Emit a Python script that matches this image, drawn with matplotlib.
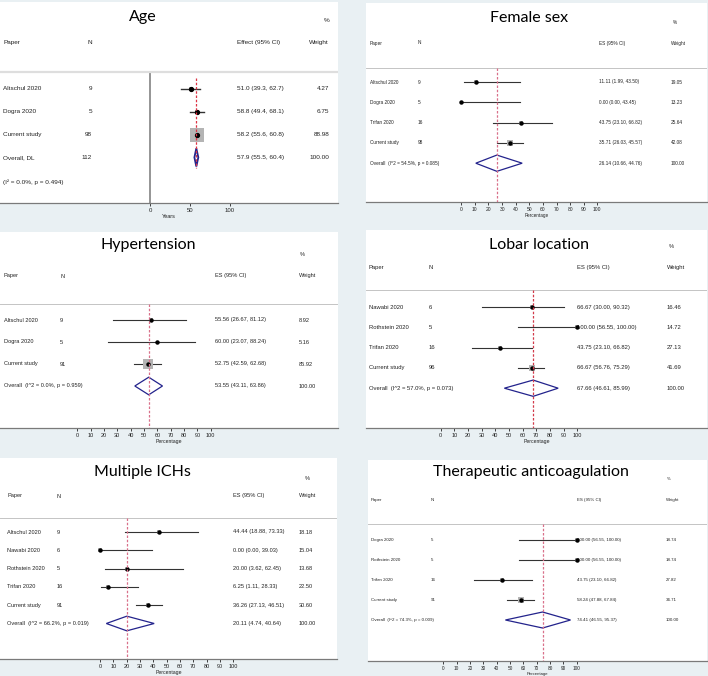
import matplotlib
matplotlib.use("Agg")
import matplotlib.pyplot as plt

W, H = 708, 676
BG = "#e9f0f3"
TXT = "Liberation Sans"

# ---- data ----
age_papers = ["Altschul 2020", "Dogra 2020", "Current study"]
age_n = [9, 5, 98]
age_es = [51.0, 58.8, 58.2]
age_lo = [39.3, 49.4, 55.6]
age_hi = [62.7, 68.1, 60.8]
age_w = [4.27, 6.75, 88.98]
age_overall = [57.9, 55.5, 60.4]
age_total_n = 112
age_het = "(I² = 0.0%, p = 0.494)"

fem_papers = ["Altschul 2020", "Dogra 2020", "Trifan 2020", "Current study"]
fem_n = [9, 5, 16, 98]
fem_es = [11.11, 0.00, 43.75, 35.71]
fem_lo = [1.99, 0.00, 23.10, 26.03]
fem_hi = [43.50, 43.45, 66.82, 45.57]
fem_w = [19.05, 13.23, 25.64, 42.08]
fem_overall = [26.14, 10.66, 44.76]
fem_het = "(I^2 = 54.5%, p = 0.085)"

hyp_papers = ["Altschul 2020", "Dogra 2020", "Current study"]
hyp_n = [9, 5, 91]
hyp_es = [55.56, 60.00, 52.75]
hyp_lo = [26.67, 23.07, 42.59]
hyp_hi = [81.12, 88.24, 62.68]
hyp_w = [8.92, 5.16, 85.92]
hyp_overall = [53.55, 43.11, 63.86]
hyp_het = "(I^2 = 0.0%, p = 0.959)"

lob_papers = ["Nawabi 2020", "Rothstein 2020", "Trifan 2020", "Current study"]
lob_n = [6, 5, 16, 96]
lob_es = [66.67, 100.00, 43.75, 66.67]
lob_lo = [30.00, 56.55, 23.10, 56.76]
lob_hi = [90.32, 100.00, 66.82, 75.29]
lob_w = [16.46, 14.72, 27.13, 41.69]
lob_overall = [67.66, 46.61, 85.99]
lob_het = "(I^2 = 57.0%, p = 0.073)"

mul_papers = ["Altschul 2020", "Nawabi 2020", "Rothstein 2020", "Trifan 2020", "Current study"]
mul_n = [9, 6, 5, 16, 91]
mul_es = [44.44, 0.00, 20.00, 6.25, 36.26]
mul_lo = [18.88, 0.00, 3.62, 1.11, 27.13]
mul_hi = [73.33, 39.03, 62.45, 28.33, 46.51]
mul_w = [18.18, 15.04, 13.68, 22.50, 30.60]
mul_overall = [20.11, 4.74, 40.64]
mul_het = "(I^2 = 66.2%, p = 0.019)"

ant_papers = ["Dogra 2020", "Rothstein 2020", "Trifan 2020", "Current study"]
ant_n = [5, 5, 16, 91]
ant_es = [100.00, 100.00, 43.75, 58.24]
ant_lo = [56.55, 56.55, 23.10, 47.88]
ant_hi = [100.00, 100.00, 66.82, 67.84]
ant_w = [18.74, 18.74, 27.82, 34.71]
ant_overall = [74.41, 46.55, 95.37]
ant_het = "(I^2 = 74.3%, p = 0.009)"

pct_ticks = list(range(0, 101, 10))
age_ticks = [0, 50, 100]

# ---- layout, in figure pixels ----
lay_age = dict(rect=(0, 2, 338, 203), px0=150, px100=230, row0=89, dy=22.8,
               header=43, sep=72, title=(143, 17), pct=(329, 21), het_y=182,
               cols=(3, 92, 237, 329), fs=4.6, tfs=4.3, box=1.5, red=(78, 168),
               red_c="#dd3344")
lay_fem = dict(rect=(366, 3, 707, 202), px0=461.3, px100=597.3, row0=82, dy=20.3,
               header=43, sep=68, title=(529, 18), pct=(673, 22),
               cols=(370, 418, 599, 671), fs=3.4, tfs=3.6, box=0.8, red=(68, 202))
lay_hyp = dict(rect=(0, 232, 338, 428), px0=77.3, px100=210.7, row0=320, dy=22,
               header=276, sep=304, title=(148, 245), pct=(300, 254),
               cols=(4, 60, 215, 299), fs=4.1, tfs=4.0, box=1.08, red=(304, 428))
lob_lay = dict(rect=(366, 230, 707, 428), px0=440.7, px100=577.3, row0=307, dy=20.3,
               header=267, sep=290, title=(539, 245), pct=(669, 246),
               cols=(369, 429, 577, 667), fs=4.2, tfs=4.0, box=0.8, red=(290, 428),
               red_c="#d23a4a")
lay_mul = dict(rect=(0, 458, 337, 659), px0=100, px100=233.3, row0=532, dy=18.3,
               header=496, sep=518, title=(142, 472), pct=(305, 478),
               cols=(7, 57, 233, 299), fs=4.1, tfs=4.0, box=0.9, red=(518, 659))
lay_ant = dict(rect=(368, 460, 707, 661), px0=443.3, px100=576.7, row0=540, dy=20,
               header=500, sep=524, title=(531, 472), pct=(667, 479),
               cols=(371, 431, 577, 666), fs=3.2, tfs=3.4, box=0.85, red=(524, 661))

fig = plt.figure(figsize=(W / 100, H / 100), dpi=100)
fig.patch.set_facecolor(BG)


def panel(title, papers, n, es, lo, hi, w, overall, het, lay, ticks, xlabel, age=False):
    left, top, right, bottom = lay["rect"]
    ax = fig.add_axes([left / W, 1 - bottom / H, (right - left) / W, (bottom - top) / H])
    ax.set_facecolor("white")
    sx = 100.0 / (lay["px100"] - lay["px0"])

    def X(px):
        return (px - lay["px0"]) * sx

    def Y(py):
        return (py - lay["row0"]) / lay["dy"]

    ax.set_xlim(X(left), X(right))
    ax.set_ylim(Y(bottom), Y(top))
    fs = lay["fs"]
    c_paper, c_n, c_es, c_w = [X(c) for c in lay["cols"]]
    txt = dict(fontfamily=TXT, fontsize=fs, color="#222222", va="center")

    # title and headers
    ax.text(X(lay["title"][0]), Y(lay["title"][1]), title, fontfamily="Lato",
            fontsize=11.5, ha="center", va="center", color="black")
    hy = Y(lay["header"])
    ax.text(c_paper, hy, "Paper", ha="left", **txt)
    ax.text(c_n, hy, "N", ha="right" if age else "left", **txt)
    ax.text(c_es, hy, "Effect (95% CI)" if age else "ES (95% CI)", ha="left", **txt)
    ax.text(c_w, hy, "Weight", ha="right" if age else "left", **txt)
    ax.text(X(lay["pct"][0]), Y(lay["pct"][1]), "%", ha="right" if age else "left", **txt)

    # separator
    if age:
        ax.axhline(Y(lay["sep"]), color="#dedede", lw=1.6)
        ax.plot([0, 0], [Y(lay["sep"]), Y(bottom)], color="#8c8c8c", lw=1.3, zorder=1)
    else:
        ax.axhline(Y(lay["sep"]), color="#c4c4c4", lw=0.7)

    efmt = "{:.1f}" if age else "{:.2f}"
    k = lay["box"]
    ms = 2.8 if age else 2.2
    for i in range(len(papers)):
        ax.plot([lo[i], hi[i]], [i, i], color="#333333", lw=1.0 if age else 0.8, zorder=2)
        ax.scatter([es[i]], [i], marker="s", s=(0.72 * k) ** 2 * w[i],
                   color="#b4b4b4", linewidths=0, zorder=3)
        ax.plot([es[i]], [i], "o", color="black", ms=ms, zorder=4)
        ax.text(c_paper, i, papers[i], ha="left", **txt)
        ax.text(c_n, i, str(n[i]), ha="right" if age else "left", **txt)
        ax.text(c_es, i, f"{efmt.format(es[i])} ({efmt.format(lo[i])}, {efmt.format(hi[i])})",
                ha="left", **txt)
        ax.text(c_w, i, f"{w[i]:.2f}", ha="right" if age else "left", **txt)

    # pooled estimate
    m = len(papers)
    est, olo, ohi = overall
    ax.fill([olo, est, ohi, est], [m, m - 0.4, m, m + 0.4], facecolor="white",
            edgecolor="#23238c", lw=1.3 if age else 0.9, zorder=3)
    ax.plot([est, est], [Y(lay["red"][0]), Y(lay["red"][1])], color=lay.get("red_c", "#d9708a"),
            lw=0.9, ls=(0, (2, 1.4)), zorder=4)
    if age:
        ax.text(c_paper, m, "Overall, DL", ha="left", **txt)
        ax.text(c_n, m, str(age_total_n), ha="right", **txt)
        ax.text(c_paper, Y(lay["het_y"]), het, ha="left", **txt)
    else:
        ax.text(c_paper, m, "Overall  " + het, ha="left", **txt)
    ax.text(c_es, m, f"{efmt.format(est)} ({efmt.format(olo)}, {efmt.format(ohi)})", ha="left", **txt)
    ax.text(c_w, m, "100.00", ha="right" if age else "left", **txt)

    # axis
    for s in ["top", "left", "right"]:
        ax.spines[s].set_visible(False)
    ax.spines["bottom"].set_color("#7a7a7a")
    ax.spines["bottom"].set_linewidth(0.9)
    ax.set_yticks([])
    ax.set_xticks(ticks)
    ax.tick_params(axis="x", direction="out", length=2.5, width=0.6, pad=1,
                   labelsize=lay["tfs"], colors="#222222")
    for lab in ax.get_xticklabels():
        lab.set_fontfamily(TXT)
    ax.set_xlabel(xlabel, fontfamily=TXT, fontsize=lay["tfs"] - 0.3, labelpad=0.5, color="#222222")
    return ax


panel("Age", age_papers, age_n, age_es, age_lo, age_hi, age_w, age_overall, age_het,
      lay_age, age_ticks, "Years", age=True)
panel("Female sex", fem_papers, fem_n, fem_es, fem_lo, fem_hi, fem_w, fem_overall, fem_het,
      lay_fem, pct_ticks, "Percentage")
panel("Hypertension", hyp_papers, hyp_n, hyp_es, hyp_lo, hyp_hi, hyp_w, hyp_overall, hyp_het,
      lay_hyp, pct_ticks, "Percentage")
panel("Lobar location", lob_papers, lob_n, lob_es, lob_lo, lob_hi, lob_w, lob_overall, lob_het,
      lob_lay, pct_ticks, "Percentage")
panel("Multiple ICHs", mul_papers, mul_n, mul_es, mul_lo, mul_hi, mul_w, mul_overall, mul_het,
      lay_mul, pct_ticks, "Percentage")
panel("Therapeutic anticoagulation", ant_papers, ant_n, ant_es, ant_lo, ant_hi, ant_w, ant_overall,
      ant_het, lay_ant, pct_ticks, "Percentage")

fig.savefig("out.png", dpi=100, facecolor=BG)
